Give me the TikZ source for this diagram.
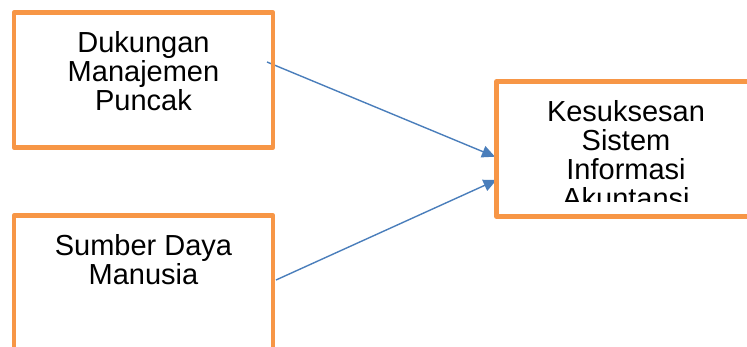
\documentclass[tikz,border=0pt]{standalone}
\usepackage{fontspec}
\setmainfont{Liberation Sans}
\usetikzlibrary{arrows.meta,backgrounds,calc}
\definecolor{boxorange}{HTML}{F79646}
\definecolor{linkblue}{HTML}{4A7EBB}
\begin{document}
\begin{tikzpicture}[x=1pt,y=1pt,
  frame/.style={draw=boxorange, line width=4.5pt, line join=round,
    minimum width=259pt, minimum height=135pt, inner sep=0pt, outer sep=0pt},
  caption/.style={anchor=north, inner sep=0pt, align=center,
    font=\fontsize{29}{29}\selectfont},
  link/.style={draw=linkblue, line width=1.4pt,
    -{Triangle[length=13pt,width=12pt]}}]
\useasboundingbox (0,0) rectangle (747,347);

% the three variable boxes
\node[frame] (mgmt) at (143.5,267) {};
\node[frame] (hr) at (143.5,64) {};
\node[frame] (ais) at (626,198) {};

% box texts, set from the top edge of each box
\node[caption] (mgmtT) at ([yshift=-18.7pt]mgmt.north) {Dukungan\\Manajemen\\Puncak};
\node[caption] (hrT) at ([yshift=-18.7pt]hr.north) {Sumber Daya\\Manusia};
\begin{scope}
  \clip (ais.north west) rectangle ([yshift=-120pt]ais.north east);
  \node[caption] (aisT) at ([yshift=-18.7pt]ais.north) {Kesuksesan\\Sistem\\Informasi\\Akuntansi};
\end{scope}

% influence arrows, drawn beneath the box frames
\begin{scope}[on background layer]
  \coordinate (s1) at ([shift={(-6pt,18pt)}]mgmt.east);
  \coordinate (e1) at ([shift={(-1.5pt,-7.7pt)}]ais.west);
  \coordinate (s2) at ([shift={(3pt,3pt)}]hr.east);
  \coordinate (e2) at ([shift={(0pt,-31pt)}]ais.west);
  \draw[link] (s1) -- (e1);
  \draw[link] (s2) -- (e2);
\end{scope}
\end{tikzpicture}
\end{document}
